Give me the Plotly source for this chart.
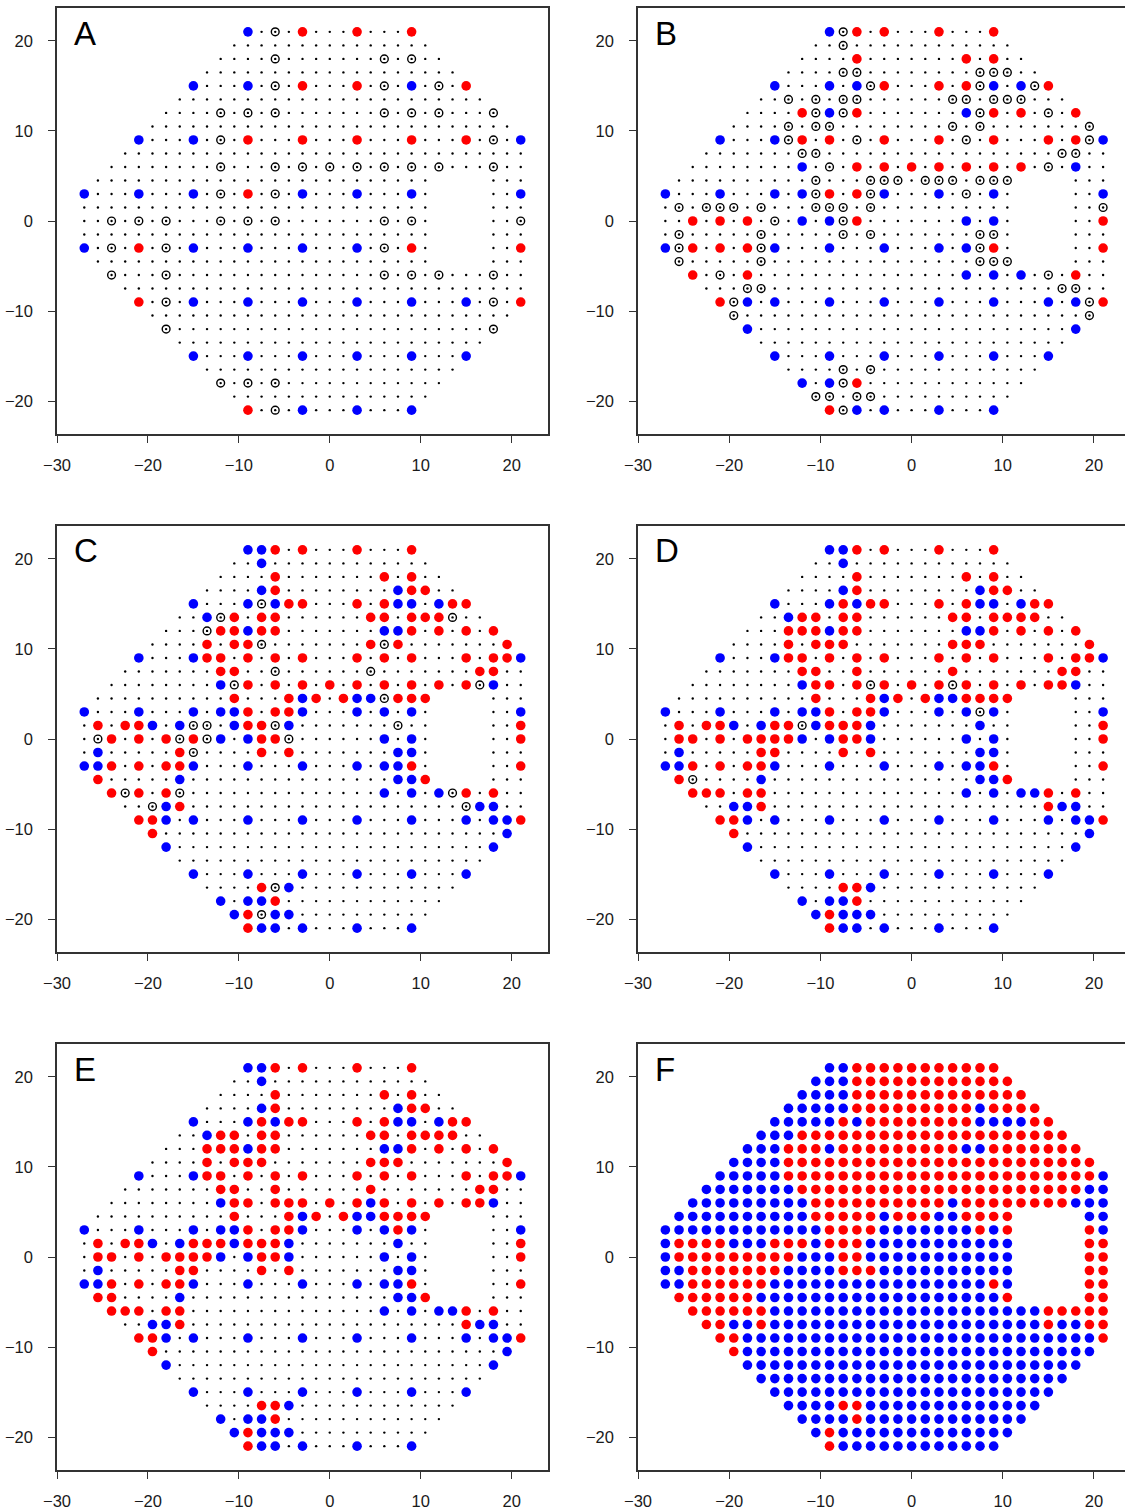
import plotly.graph_objects as go

# ---------------- test grid (perimetry locations) ----------------
X_LEVELS = [-27, -25.5, -24, -22.5, -21, -19.5, -18, -16.5, -15, -13.5, -12, -10.5, -9,
            -7.5, -6, -4.5, -3, -1.5, 0, 1.5, 3, 4.5, 6, 7.5, 9, 10.5, 12, 13.5, 15,
            16.5, 18, 19.5, 21]
Y_LEVELS = [21, 19.5, 18, 16.5, 15, 13.5, 12, 10.5, 9, 7.5, 6, 4.5, 3, 1.5, 0, -1.5, -3,
            -4.5, -6, -7.5, -9, -10.5, -12, -13.5, -15, -16.5, -18, -19.5, -21]
ROW_XMIN = [-9, -10.5, -12, -13.5, -15, -16.5, -18, -19.5, -21, -22.5, -24, -25.5, -27,
            -27, -27, -27, -27, -25.5, -24, -22.5, -21, -19.5, -18, -16.5, -15, -13.5,
            -12, -10.5, -9]
ROW_XMAX = [9, 10.5, 12, 13.5, 15, 16.5, 18, 19.5, 21, 21, 21, 21, 21, 21, 21, 21, 21,
            21, 21, 21, 21, 19.5, 18, 16.5, 15, 13.5, 12, 10.5, 9]
BLIND_X = [12, 13.5, 15, 16.5]
BLIND_Y = [4.5, 3, 1.5, 0, -1.5, -3, -4.5]

PANEL_LABELS = ["A", "B", "C", "D", "E", "F"]
X_TICKS = [-30, -20, -10, 0, 10, 20]
Y_TICKS = [-20, -10, 0, 10, 20]

# ---------------- panel A ----------------
A_red = {21: [-3, 3, 9], 15: [-3, 3, 15], 9: [-9, -3, 3, 9, 15], 3: [-9],
         -3: [-21, 9, 21], -9: [-21, 21], -21: [-9]}
A_blue = {21: [-9], 15: [-15, -9, 9], 9: [-21, -15, 21],
          3: [-27, -21, -15, -3, 3, 9, 21], -3: [-27, -15, -9, -3, 3],
          -9: [-15, -9, -3, 3, 9, 15], -15: [-15, -9, -3, 3, 9, 15], -21: [-3, 3, 9]}
A_circ = {21: [-6], 18: [-6, 6, 9], 15: [-6, 6, 12], 12: [-12, -9, -6, 6, 9, 12, 18],
          9: [-12, 18], 6: [-12, -6, -3, 0, 3, 6, 9, 12, 18], 3: [-12, -6],
          0: [-24, -21, -18, -12, -9, -6, 6, 9, 21], -3: [-24, -18, 6],
          -6: [-24, -18, 6, 9, 12, 18], -9: [-18, 18], -12: [-18, 18],
          -18: [-12, -9, -6], -21: [-6]}

# ---------------- panel B ----------------
B_red = {21: [-6, -3, 3, 9], 18: [-6, 6, 9], 15: [-3, 3, 6, 15], 12: [-12, -6, 9, 12, 18],
         9: [-12, -9, -3, 3, 9, 15, 18], 6: [-6, -3, 0, 3, 6, 9, 12], 3: [-9, -6],
         0: [-24, -21, -18, -6, 21], -3: [-24, -21, -18, 9, 21], -6: [-24, -18, 18],
         -9: [-21, 21], -18: [-6], -21: [-9]}
B_blue = {21: [-9], 15: [-15, -9, -6, 9, 12], 12: [-9, 6], 9: [-21, -15, 21], 6: [-12, 18],
          3: [-27, -21, -15, -12, -3, 3, 9, 21], 0: [-12, -9, 6, 9],
          -3: [-27, -15, -9, -3, 3, 6], -6: [6, 9, 12],
          -9: [-18, -15, -9, -3, 3, 9, 15, 18], -12: [-18, 18],
          -15: [-15, -9, -3, 3, 9, 15], -18: [-12, -9], -21: [-6, -3, 3, 9]}
B_circ = {21: [-7.5], 19.5: [-7.5], 16.5: [-7.5, -6, 7.5, 9, 10.5], 15: [-4.5, 7.5, 13.5],
          13.5: [-13.5, -10.5, -7.5, -6, 4.5, 6, 9, 10.5, 12], 12: [-10.5, -7.5, 7.5, 15],
          10.5: [-13.5, -10.5, -9, 4.5, 7.5, 19.5], 9: [-13.5, -6, 6, 19.5],
          7.5: [-12, -10.5, 16.5, 18], 6: [-9, 15],
          4.5: [-10.5, -4.5, -3, -1.5, 1.5, 3, 4.5, 7.5, 9, 10.5], 3: [-10.5, -4.5, 6],
          1.5: [-25.5, -22.5, -21, -19.5, -16.5, -10.5, -9, -7.5, -4.5, 21],
          0: [-15, -7.5], -1.5: [-25.5, -16.5, -7.5, -4.5, 7.5, 9],
          -3: [-25.5, -16.5, 7.5], -4.5: [-25.5, -16.5, 7.5, 9, 10.5], -6: [-21, 15],
          -7.5: [-18, -16.5, 16.5, 18], -9: [-19.5, 19.5], -10.5: [-19.5, 19.5],
          -16.5: [-7.5, -4.5], -18: [-7.5], -19.5: [-10.5, -9, -6, -4.5], -21: [-7.5]}

# ---------------- panel C ----------------
C_red = {21: [-6, -3, 3, 9], 18: [-6, 6, 9], 16.5: [-6, 9, 10.5],
         15: [-4.5, -3, 3, 6, 13.5, 15], 13.5: [-10.5, -7.5, -6, 4.5, 6, 9, 10.5, 12],
         12: [-12, -10.5, -7.5, -6, 9, 12, 15, 18], 10.5: [-13.5, -10.5, -9, 4.5, 7.5, 19.5],
         9: [-13.5, -12, -9, -6, -3, 3, 6, 9, 15, 18, 19.5], 7.5: [-12, -10.5, 16.5, 18],
         6: [-9, -6, -3, 0, 3, 6, 9, 12, 15], 4.5: [-10.5, -4.5, -1.5, 1.5, 7.5, 9, 10.5],
         3: [-9, -6, -4.5], 1.5: [-25.5, -22.5, -21, -9, -7.5, 21],
         0: [-24, -21, -18, -15, -7.5, -6, 21], -1.5: [-16.5, -7.5, -4.5],
         -3: [-24, -21, -18, -16.5, 9, 21], -4.5: [-25.5, 10.5], -6: [-24, -21, -18, 15, 18],
         -7.5: [-16.5], -9: [-21, -19.5, 21], -10.5: [-19.5], -16.5: [-7.5], -18: [-6],
         -19.5: [-9], -21: [-9]}
C_blue = {21: [-9, -7.5], 19.5: [-7.5], 16.5: [-7.5, 7.5], 15: [-15, -9, -6, 7.5, 9, 12],
          13.5: [-13.5], 12: [-9, 6, 7.5], 9: [-21, -15, 21], 6: [-12, 18], 4.5: [-3, 3, 4.5],
          3: [-27, -21, -15, -12, -10.5, -3, 3, 6, 9, 21], 1.5: [-19.5, -16.5, -10.5, -4.5],
          0: [-12, -9, 6, 9], -1.5: [-25.5, 7.5, 9], -3: [-27, -25.5, -15, -9, -3, 3, 6, 7.5],
          -4.5: [-16.5, 7.5, 9], -6: [6, 9, 12], -7.5: [-18, 16.5, 18],
          -9: [-18, -15, -9, -3, 3, 9, 15, 18, 19.5], -10.5: [19.5], -12: [-18, 18],
          -15: [-15, -9, -3, 3, 9, 15], -16.5: [-4.5], -18: [-12, -9, -7.5],
          -19.5: [-10.5, -6, -4.5], -21: [-7.5, -6, -3, 3, 9]}
C_circ = {15: [-7.5], 13.5: [-12, 13.5], 12: [-13.5], 10.5: [-7.5, 6], 7.5: [-6, 4.5],
          6: [-10.5, 16.5], 4.5: [6], 1.5: [-15, -13.5, -6, 7.5],
          0: [-25.5, -16.5, -13.5, -4.5], -1.5: [-15], -6: [-22.5, -16.5, 13.5],
          -7.5: [-19.5, 15], -16.5: [-6], -19.5: [-7.5]}

# ---------------- panel D ----------------
D_red = {21: [-6, -3, 3, 9], 18: [-6, 6, 9], 16.5: [-6, 9, 10.5],
         15: [-7.5, -4.5, -3, 3, 6, 13.5, 15],
         13.5: [-12, -10.5, -7.5, -6, 4.5, 6, 9, 10.5, 12, 13.5],
         12: [-13.5, -12, -10.5, -7.5, -6, 9, 12, 15, 18],
         10.5: [-13.5, -10.5, -9, -7.5, 4.5, 6, 7.5, 19.5],
         9: [-13.5, -12, -9, -6, -3, 3, 6, 9, 15, 18, 19.5],
         7.5: [-12, -10.5, -6, 4.5, 16.5, 18],
         6: [-10.5, -9, -6, -3, 0, 3, 6, 9, 12, 15, 16.5],
         4.5: [-10.5, -4.5, -1.5, 1.5, 6, 7.5, 9, 10.5], 3: [-9, -6, -4.5],
         1.5: [-25.5, -22.5, -21, -15, -13.5, -9, -7.5, -6, 21],
         0: [-25.5, -24, -21, -18, -16.5, -15, -13.5, -7.5, -6, 21],
         -1.5: [-16.5, -15, -7.5, -4.5], -3: [-24, -21, -18, -16.5, 9, 21],
         -4.5: [-25.5, 10.5], -6: [-24, -22.5, -21, -18, -16.5, 15, 18], -7.5: [-16.5, 15],
         -9: [-21, -19.5, 21], -10.5: [-19.5], -16.5: [-7.5, -6], -18: [-6], -19.5: [-9],
         -21: [-9]}
D_blue = {21: [-9, -7.5], 19.5: [-7.5], 16.5: [-7.5, 7.5], 15: [-15, -9, -6, 7.5, 9, 12],
          13.5: [-13.5], 12: [-9, 6, 7.5], 9: [-21, -15, 21], 6: [-12, 18], 4.5: [-3, 3, 4.5],
          3: [-27, -21, -15, -12, -10.5, -3, 3, 6, 9, 21],
          1.5: [-19.5, -16.5, -10.5, -4.5, 7.5], 0: [-12, -9, -4.5, 6, 9],
          -1.5: [-25.5, 7.5, 9], -3: [-27, -25.5, -15, -9, -3, 3, 6, 7.5],
          -4.5: [-16.5, 7.5, 9], -6: [6, 9, 12, 13.5], -7.5: [-19.5, -18, 16.5, 18],
          -9: [-18, -15, -9, -3, 3, 9, 15, 18, 19.5], -10.5: [19.5], -12: [-18, 18],
          -15: [-15, -9, -3, 3, 9, 15], -16.5: [-4.5], -18: [-12, -9, -7.5],
          -19.5: [-10.5, -7.5, -6, -4.5], -21: [-7.5, -6, -3, 3, 9]}
D_circ = {6: [-4.5, 4.5], 3: [7.5], 1.5: [-12], -4.5: [-24]}

# ---------------- panel E ----------------
E_red = {21: [-6, -3, 3, 9], 18: [-6, 6, 9], 16.5: [-6, 9, 10.5],
         15: [-7.5, -4.5, -3, 3, 6, 13.5, 15],
         13.5: [-12, -10.5, -7.5, -6, 4.5, 6, 9, 10.5, 12, 13.5],
         12: [-13.5, -12, -10.5, -7.5, -6, 9, 12, 15, 18],
         10.5: [-13.5, -10.5, -9, -7.5, 4.5, 6, 7.5, 19.5],
         9: [-13.5, -12, -9, -6, -3, 3, 6, 9, 15, 18, 19.5],
         7.5: [-12, -10.5, -6, 4.5, 16.5, 18],
         6: [-10.5, -9, -6, -4.5, -3, 0, 3, 6, 9, 12, 15, 16.5],
         4.5: [-10.5, -4.5, -1.5, 1.5, 6, 7.5, 9, 10.5], 3: [-9, -6, -4.5, 7.5],
         1.5: [-25.5, -22.5, -21, -15, -13.5, -12, -9, -7.5, -6, 21],
         0: [-25.5, -24, -21, -18, -16.5, -15, -13.5, -7.5, -6, 21],
         -1.5: [-16.5, -15, -7.5, -4.5], -3: [-24, -21, -18, -16.5, 9, 21],
         -4.5: [-25.5, -24, 10.5], -6: [-24, -22.5, -21, -18, -16.5, 15, 18],
         -7.5: [-16.5, 15], -9: [-21, -19.5, 21], -10.5: [-19.5], -16.5: [-7.5, -6],
         -18: [-6], -19.5: [-9], -21: [-9]}
E_blue = {21: [-9, -7.5], 19.5: [-7.5], 16.5: [-7.5, 7.5], 15: [-15, -9, -6, 7.5, 9, 12],
          13.5: [-13.5], 12: [-9, 6, 7.5], 9: [-21, -15, 21], 6: [-12, 4.5, 18],
          4.5: [-3, 3, 4.5], 3: [-27, -21, -15, -12, -10.5, -3, 3, 6, 9, 21],
          1.5: [-19.5, -16.5, -10.5, -4.5, 7.5], 0: [-12, -9, -4.5, 6, 9],
          -1.5: [-25.5, 7.5, 9], -3: [-27, -25.5, -15, -9, -3, 3, 6, 7.5],
          -4.5: [-16.5, 7.5, 9], -6: [6, 9, 12, 13.5], -7.5: [-19.5, -18, 16.5, 18],
          -9: [-18, -15, -9, -3, 3, 9, 15, 18, 19.5], -10.5: [19.5], -12: [-18, 18],
          -15: [-15, -9, -3, 3, 9, 15], -16.5: [-4.5], -18: [-12, -9, -7.5],
          -19.5: [-10.5, -7.5, -6, -4.5], -21: [-7.5, -6, -3, 3, 9]}
E_circ = {}

# ---------------- panel F (run-length per row, left to right; r=red b=blue _=not shown)
F_RUNS = [
    "b2 r11", "b3 r12", "b4 r13", "b5 r9 b1 r4", "b5 r1 b1 r8 b4 r2", "b3 r20",
    "b3 r3 b1 r9 b2 r7", "b4 r23", "b5 r23 b1", "b7 r21 b2", "b9 r10 b1 r8 b3",
    "b10 r5 b1 r3 b2 r4 _5 b2", "b12 r4 b7 r1 b1 r1 _5 r1 b1",
    "b1 r4 b3 r3 b1 r3 b11 _5 r2", "b1 r9 b3 r2 b11 _5 r2", "b2 r7 b4 r3 b10 _5 r2",
    "b2 r6 b16 r1 b1 _5 r2", "r6 b18 r1 _5 r2", "r6 b20 r5", "r2 b2 r1 b20 r1 b2 r2",
    "r2 b26 r1", "r1 b26", "b25", "b23", "b21", "b4 r2 b13", "b4 r1 b12", "b1 r1 b13",
    "r1 b12",
]

RED = "#FF0000"
BLUE = "#0000FF"
INK = "#1a1a1a"
FONT = "Liberation Sans, Arial, Helvetica, sans-serif"


def expand(d):
    xs, ys = [], []
    for y, row in d.items():
        for x in row:
            xs.append(x)
            ys.append(y)
    return xs, ys


def grid_points():
    xs, ys = [], []
    for j, y in enumerate(Y_LEVELS):
        for x in X_LEVELS:
            if ROW_XMIN[j] <= x <= ROW_XMAX[j] and not (y in BLIND_Y and x in BLIND_X):
                xs.append(x)
                ys.append(y)
    return xs, ys


def f_points():
    red, blue = ([], []), ([], [])
    for j, y in enumerate(Y_LEVELS):
        row_x = [x for x in X_LEVELS if ROW_XMIN[j] <= x <= ROW_XMAX[j]]
        codes = []
        for tok in F_RUNS[j].split():
            codes.extend([tok[0]] * int(tok[1:]))
        if len(codes) != len(row_x):
            raise ValueError(f"F row {j}: {len(codes)} codes vs {len(row_x)} points")
        for x, c in zip(row_x, codes):
            if c == "r":
                red[0].append(x); red[1].append(y)
            elif c == "b":
                blue[0].append(x); blue[1].append(y)
    return red, blue


W, H = 1125, 1511
COLS = [(57, 548, 24.0), (638, 1125, 23.4)]
ROWS = [(8, 434), (526, 952), (1044, 1470)]

fig = go.Figure()
panels = [(A_red, A_blue, A_circ), (B_red, B_blue, B_circ), (C_red, C_blue, C_circ),
          (D_red, D_blue, D_circ), (E_red, E_blue, E_circ), None]

gx, gy = grid_points()
for k in range(6):
    r, c = divmod(k, 2)
    xa = "x" if k == 0 else f"x{k+1}"
    ya = "y" if k == 0 else f"y{k+1}"
    if panels[k] is not None:
        red_d, blue_d, circ_d = panels[k]
        fig.add_trace(go.Scatter(x=gx, y=gy, mode="markers", xaxis=xa, yaxis=ya,
                                 marker=dict(size=2.4, color="black"), hoverinfo="skip"))
        cx, cy = expand(circ_d)
        fig.add_trace(go.Scatter(x=cx, y=cy, mode="markers", xaxis=xa, yaxis=ya,
                                 marker=dict(symbol="circle-open", size=7.8, color="black",
                                             line=dict(width=1.4, color="black")),
                                 hoverinfo="skip"))
        rx, ry = expand(red_d)
        bx, by = expand(blue_d)
    else:
        (rx, ry), (bx, by) = f_points()
    fig.add_trace(go.Scatter(x=rx, y=ry, mode="markers", xaxis=xa, yaxis=ya,
                             marker=dict(size=9.6, color=RED, line=dict(width=0)),
                             hoverinfo="skip"))
    fig.add_trace(go.Scatter(x=bx, y=by, mode="markers", xaxis=xa, yaxis=ya,
                             marker=dict(size=9.6, color=BLUE, line=dict(width=0)),
                             hoverinfo="skip"))

    left, right, xmax = COLS[c]
    top, bottom = ROWS[r]
    sfx = "" if k == 0 else str(k + 1)
    common = dict(showgrid=False, zeroline=False, showline=True, linecolor="#333",
                  linewidth=1.5, ticks="outside", ticklen=7, tickwidth=1.3,
                  tickcolor="#333", tickfont=dict(family=FONT, size=16.5, color=INK),
                  fixedrange=True, automargin=False)
    fig.layout["xaxis" + sfx] = dict(
        domain=[left / W, right / W], range=[-30, xmax], tickvals=X_TICKS,
        anchor=ya, mirror=True, ticklabelstandoff=8, **common)
    fig.layout["yaxis" + sfx] = dict(
        domain=[(H - bottom) / H, (H - top) / H], range=[-23.65, 23.65], tickvals=Y_TICKS,
        anchor=xa, mirror=(c == 0), ticklabelstandoff=12, **common)
    fig.add_annotation(text=PANEL_LABELS[k], xref="paper", yref="paper",
                       x=(left + 15) / W, y=(H - (top + 25)) / H, xanchor="left",
                       yanchor="middle", showarrow=False,
                       font=dict(family=FONT, size=33, color="black"))

fig.update_layout(width=W, height=H, autosize=False, showlegend=False,
                  margin=dict(l=0, r=0, t=0, b=0, pad=0, autoexpand=False),
                  plot_bgcolor="white", paper_bgcolor="white")

fig.write_html(
    "out.html",
    config={"responsive": False, "displayModeBar": False},
    post_script="document.body.style.margin='0';document.body.style.padding='0';"
                "document.documentElement.style.overflow='hidden';",
)
